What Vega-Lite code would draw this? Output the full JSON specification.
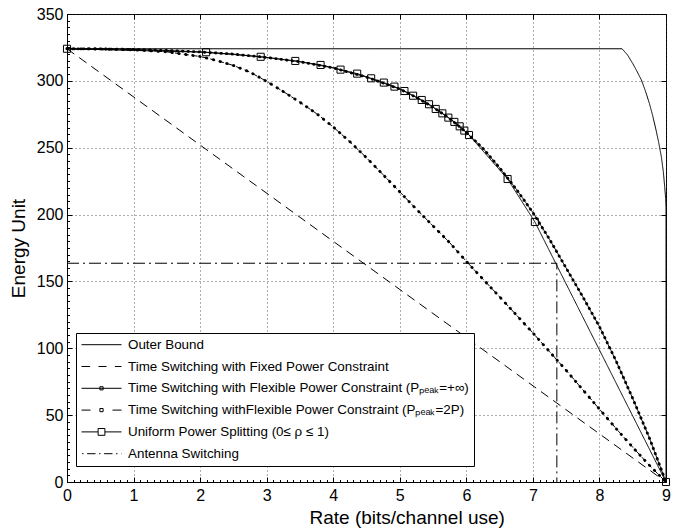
{
  "$schema": "https://vega.github.io/schema/vega-lite/v6.json",
  "width": 599,
  "height": 468,
  "autosize": {"type": "none"},
  "padding": {"left": 67, "top": 14, "right": 23, "bottom": 49},
  "background": "white",
  "config": {
    "view": {"stroke": "black", "strokeWidth": 1},
    "font": "Liberation Sans",
    "axis": {
      "labelFont": "Liberation Sans", "labelFontSize": 16, "labelColor": "black",
      "titleFont": "Liberation Sans", "titleFontSize": 19, "titleFontWeight": "normal", "titleColor": "black",
      "tickColor": "black", "domainColor": "black", "domainWidth": 1,
      "gridColor": "#333", "gridDash": [1, 3], "gridOpacity": 1, "gridWidth": 0.8
    }
  },
  "datasets": {
    "c": [
      {"s":"OB","x":0,"y":324,"k":0},{"s":"OB","x":8.34,"y":324,"k":1},{"s":"OB","x":8.42,"y":319.5,"k":2},{"s":"OB","x":8.5,"y":313,"k":3},{"s":"OB","x":8.56,"y":307.5,"k":4},{"s":"OB","x":8.63,"y":300.7,"k":5},{"s":"OB","x":8.69,"y":292.5,"k":6},{"s":"OB","x":8.75,"y":283.2,"k":7},{"s":"OB","x":8.8,"y":274,"k":8},{"s":"OB","x":8.85,"y":263.3,"k":9},{"s":"OB","x":8.89,"y":254,"k":10},{"s":"OB","x":8.93,"y":243.3,"k":11},{"s":"OB","x":8.96,"y":232,"k":12},{"s":"OB","x":8.98,"y":221,"k":13},{"s":"OB","x":8.995,"y":212,"k":14},{"s":"OB","x":9,"y":205,"k":15},{"s":"OB","x":9,"y":0,"k":16},
      {"s":"TSF","x":0,"y":324,"k":17},{"s":"TSF","x":9,"y":0,"k":18},
      {"s":"ANT","x":0,"y":163.6,"k":19},{"s":"ANT","x":7.36,"y":163.6,"k":20},{"s":"ANT","x":7.36,"y":0,"k":21},
      {"s":"UPS","x":0,"y":324,"k":22},{"s":"UPS","x":2.09,"y":321.4,"k":23},{"s":"UPS","x":2.91,"y":318,"k":24},{"s":"UPS","x":3.43,"y":314.9,"k":25},{"s":"UPS","x":3.81,"y":311.9,"k":26},{"s":"UPS","x":4.11,"y":308.4,"k":27},{"s":"UPS","x":4.36,"y":305.4,"k":28},{"s":"UPS","x":4.57,"y":301.9,"k":29},{"s":"UPS","x":4.76,"y":298.7,"k":30},{"s":"UPS","x":4.92,"y":295.7,"k":31},{"s":"UPS","x":5.07,"y":292.4,"k":32},{"s":"UPS","x":5.2,"y":288.9,"k":33},{"s":"UPS","x":5.33,"y":285.7,"k":34},{"s":"UPS","x":5.44,"y":282.5,"k":35},{"s":"UPS","x":5.54,"y":279,"k":36},{"s":"UPS","x":5.64,"y":275.7,"k":37},{"s":"UPS","x":5.73,"y":272.5,"k":38},{"s":"UPS","x":5.82,"y":269.3,"k":39},{"s":"UPS","x":5.9,"y":266,"k":40},{"s":"UPS","x":5.97,"y":262.8,"k":41},{"s":"UPS","x":6.04,"y":259.5,"k":42},{"s":"UPS","x":6.62,"y":226.6,"k":43},{"s":"UPS","x":7.03,"y":194.5,"k":44},{"s":"UPS","x":9,"y":0,"k":45},
      {"s":"INF","x":0,"y":324,"k":46},{"s":"INF","x":0.5,"y":323.9,"k":47},{"s":"INF","x":1,"y":323.5,"k":48},{"s":"INF","x":1.5,"y":322.7,"k":49},{"s":"INF","x":2,"y":321.6,"k":50},{"s":"INF","x":2.5,"y":320,"k":51},{"s":"INF","x":3,"y":317.5,"k":52},{"s":"INF","x":3.5,"y":314.3,"k":53},{"s":"INF","x":4,"y":309.7,"k":54},{"s":"INF","x":4.5,"y":302.8,"k":55},{"s":"INF","x":5,"y":293.9,"k":56},{"s":"INF","x":5.25,"y":287.6,"k":57},{"s":"INF","x":5.5,"y":280.3,"k":58},{"s":"INF","x":5.75,"y":271.8,"k":59},{"s":"INF","x":6,"y":261.5,"k":60},{"s":"INF","x":6.25,"y":249.5,"k":61},{"s":"INF","x":6.5,"y":235,"k":62},{"s":"INF","x":6.75,"y":219,"k":63},{"s":"INF","x":7,"y":201.5,"k":64},{"s":"INF","x":7.25,"y":181.5,"k":65},{"s":"INF","x":7.5,"y":160,"k":66},{"s":"INF","x":7.75,"y":138.5,"k":67},{"s":"INF","x":8,"y":116.2,"k":68},{"s":"INF","x":8.25,"y":90.5,"k":69},{"s":"INF","x":8.5,"y":62.5,"k":70},{"s":"INF","x":8.75,"y":33,"k":71},{"s":"INF","x":9,"y":0,"k":72},
      {"s":"P2","x":0,"y":324,"k":73},{"s":"P2","x":0.5,"y":323.8,"k":74},{"s":"P2","x":1,"y":323.2,"k":75},{"s":"P2","x":1.5,"y":321.7,"k":76},{"s":"P2","x":2,"y":318.2,"k":77},{"s":"P2","x":2.25,"y":315.2,"k":78},{"s":"P2","x":2.5,"y":311.5,"k":79},{"s":"P2","x":2.75,"y":306.5,"k":80},{"s":"P2","x":3,"y":299.6,"k":81},{"s":"P2","x":3.25,"y":292,"k":82},{"s":"P2","x":3.5,"y":284,"k":83},{"s":"P2","x":3.75,"y":275.5,"k":84},{"s":"P2","x":4,"y":265.5,"k":85},{"s":"P2","x":4.25,"y":254.5,"k":86},{"s":"P2","x":4.5,"y":242.5,"k":87},{"s":"P2","x":4.75,"y":229.8,"k":88},{"s":"P2","x":5,"y":217,"k":89},{"s":"P2","x":5.25,"y":204,"k":90},{"s":"P2","x":5.5,"y":191.5,"k":91},{"s":"P2","x":5.75,"y":179,"k":92},{"s":"P2","x":6,"y":165,"k":93},{"s":"P2","x":6.25,"y":151.7,"k":94},{"s":"P2","x":6.5,"y":138.5,"k":95},{"s":"P2","x":6.75,"y":125,"k":96},{"s":"P2","x":7,"y":111.5,"k":97},{"s":"P2","x":7.25,"y":97.5,"k":98},{"s":"P2","x":7.5,"y":83.5,"k":99},{"s":"P2","x":7.75,"y":69,"k":100},{"s":"P2","x":8,"y":54.5,"k":101},{"s":"P2","x":8.25,"y":40,"k":102},{"s":"P2","x":8.5,"y":26,"k":103},{"s":"P2","x":8.75,"y":12.5,"k":104},{"s":"P2","x":9,"y":0,"k":105}
    ]
  },
  "data": {"name": "c"},
  "resolve": {"axis": {"x": "independent", "y": "independent"}},
  "layer": [
    {
      "mark": {"type": "line", "color": "black", "strokeWidth": 1},
      "encoding": {
        "x": {"field": "x", "type": "quantitative", "scale": {"domain": [0, 9], "nice": false, "zero": false},
              "axis": {"orient": "bottom", "values": [0,1,2,3,4,5,6,7,8,9], "grid": true, "tickSize": -5, "labelPadding": 10, "labelFlush": false,
                       "title": "Rate (bits/channel use)", "titleAlign": "left", "titleAnchor": "start", "titleX": 242, "titleY": 41, "titleBaseline": "alphabetic"}},
        "y": {"field": "y", "type": "quantitative", "scale": {"domain": [0, 350], "nice": false, "zero": false},
              "axis": {"orient": "left", "values": [0,50,100,150,200,250,300,350], "grid": true, "tickSize": -5, "labelPadding": 9, "labelFlush": false,
                       "title": "Energy Unit", "titlePadding": 8}},
        "detail": {"field": "s"},
        "strokeDash": {"field": "s", "type": "nominal", "legend": null,
                       "scale": {"domain": ["OB", "TSF", "INF", "P2", "UPS", "ANT"], "range": [[1, 0], [9, 6], [1, 0], [5, 4], [1, 0], [12, 4, 2, 4]]}},
        "order": {"field": "k", "type": "quantitative"}
      }
    },
    {
      "transform": [{"filter": "datum.s === 'INF'"}],
      "mark": {"type": "line", "color": "black", "strokeWidth": 2.8, "strokeCap": "round", "strokeDash": [0.5, 5]},
      "encoding": {
        "x": {"field": "x", "type": "quantitative", "axis": null},
        "y": {"field": "y", "type": "quantitative", "axis": null},
        "order": {"field": "k", "type": "quantitative"}
      }
    },
    {
      "transform": [{"filter": "datum.s === 'P2'"}],
      "mark": {"type": "line", "color": "black", "strokeWidth": 2.8, "strokeCap": "round", "strokeDash": [0.5, 6.5]},
      "encoding": {
        "x": {"field": "x", "type": "quantitative", "axis": null},
        "y": {"field": "y", "type": "quantitative", "axis": null},
        "order": {"field": "k", "type": "quantitative"}
      }
    },
    {
      "transform": [{"filter": "datum.s === 'UPS'"}],
      "mark": {"type": "point", "shape": "square", "filled": false, "color": "black", "strokeWidth": 1, "size": 50, "opacity": 1},
      "encoding": {
        "x": {"field": "x", "type": "quantitative", "axis": null},
        "y": {"field": "y", "type": "quantitative", "axis": null}
      }
    },
    {
      "transform": [{"filter": "false"}],
      "mark": {"type": "point", "filled": false, "color": "black", "strokeWidth": 1, "size": 1600, "opacity": 1},
      "encoding": {
        "x": {"field": "x", "type": "quantitative",
              "axis": {"orient": "top", "values": [0,1,2,3,4,5,6,7,8,9], "grid": false, "domain": false, "labels": false, "tickSize": -5, "title": null}},
        "y": {"field": "y", "type": "quantitative",
              "axis": {"orient": "right", "values": [0,50,100,150,200,250,300,350], "grid": false, "domain": false, "labels": false, "tickSize": -5, "title": null}},
        "shape": {"field": "name", "type": "nominal",
          "scale": {
            "domain": [
              "Outer Bound",
              "Time Switching with Fixed Power Constraint",
              "Time Switching with Flexible Power Constraint (Pₚₑₐₖ=+∞)",
              "Time Switching withFlexible Power Constraint (Pₚₑₐₖ=2P)",
              "Uniform Power Splitting (0≤ ρ ≤ 1)",
              "Antenna Switching"
            ],
            "range": [
              "M-1,0H1",
              "M-1,0H-0.57M-0.15,0H0.25M0.67,0H1",
              "M-1,0H1M-0.08,-0.08H0.08V0.08H-0.08Z",
              "M-1,0H-0.55M-0.08,-0.08H0.08V0.08H-0.08ZM0.55,0H1",
              "M-1,0H-0.17M0.17,0H1M-0.17,-0.17H0.17V0.17H-0.17Z",
              "M-0.97,0H-0.9M-0.72,0H-0.3M-0.12,0H-0.05M0.13,0H0.55M0.73,0H0.8M0.98,0H1"
            ]
          },
          "legend": {
            "orient": "none", "legendX": 9, "legendY": 319, "title": null,
            "symbolSize": 1600, "symbolStrokeColor": "black", "symbolFillColor": "transparent", "symbolStrokeWidth": 1, "symbolOpacity": 1,
            "clipHeight": 13.4, "rowPadding": 6.8, "padding": 5, "labelOffset": 6, "symbolOffset": 0,
            "labelFont": "Liberation Sans", "labelFontSize": 13.4, "labelColor": "black", "labelLimit": 600,
            "strokeColor": "black", "fillColor": "white", "cornerRadius": 0
          }
        }
      }
    },
    {
      "transform": [{"filter": "false"}],
      "mark": {"type": "point"},
      "encoding": {
        "x": {"field": "x", "type": "quantitative",
              "axis": {"orient": "bottom", "tickCount": 90, "grid": false, "domain": false, "labels": false, "tickSize": -2.5, "title": null}},
        "y": {"field": "y", "type": "quantitative",
              "axis": {"orient": "left", "tickCount": 70, "grid": false, "domain": false, "labels": false, "tickSize": -2.5, "title": null}}
      }
    }
  ]
}
